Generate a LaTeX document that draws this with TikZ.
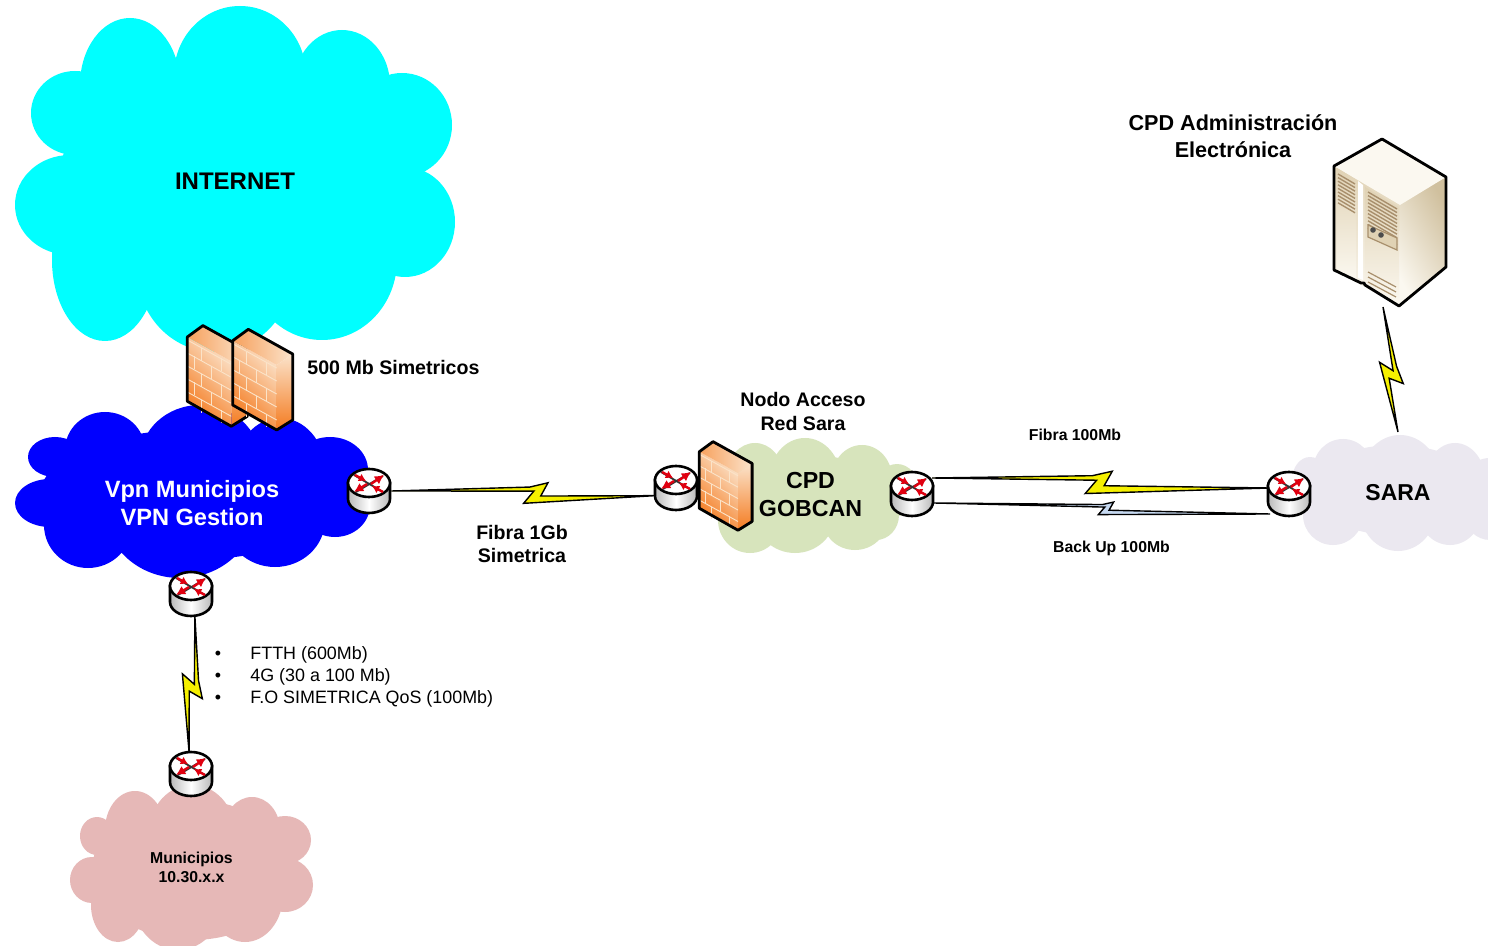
\documentclass[tikz,border=0pt]{standalone}
\usepackage{fontspec}
\setmainfont{Liberation Sans}
\usetikzlibrary{calc,arrows.meta}
\definecolor{fwdark}{HTML}{F47B20}
\definecolor{fwlight}{HTML}{FBE3CB}
\definecolor{fwtop}{HTML}{FAD9B8}
\definecolor{brick}{HTML}{FBE3C8}
\definecolor{srvlight}{HTML}{FBF8F0}
\definecolor{srvmid}{HTML}{E0D2B4}
\definecolor{srvdark}{HTML}{D0C09E}
\definecolor{slat}{HTML}{A88F6C}
\definecolor{cloudcyan}{HTML}{00FFFF}
\definecolor{cloudblue}{HTML}{0000FF}
\definecolor{cloudgreen}{HTML}{D7E4BC}
\definecolor{cloudgrey}{HTML}{EBE8F0}
\definecolor{cloudrose}{HTML}{E6B8B7}
\definecolor{boltyellow}{HTML}{F5F000}
\definecolor{boltblue}{HTML}{C6D9F1}
\definecolor{redarrow}{HTML}{E00010}
\tikzset{
  lbl/.style={inner sep=0pt,align=center,text=black,font=\bfseries},
  routerspot/.style={circle,minimum size=22pt,inner sep=0pt},
  boltline/.style={draw=black,line width=.7pt,line join=miter},
  redhead/.style={redarrow,line width=1.2pt,-{Latex[length=4.6pt,width=4.8pt]}},
  routerpic/.pic={
    \path[draw=black,line width=1.3pt,left color=gray!55,right color=gray!55,middle color=white]
      (-21,-8) -- (-21,8) arc[start angle=180,end angle=0,x radius=21,y radius=14] -- (21,-8) -- cycle;
    \path[draw=black,line width=1.3pt,fill=white] (0,-8) ellipse[x radius=21,y radius=14];
    \draw[black!80,line width=.9pt] (-15,-16) -- (14,1) (-13,1) -- (14,-15);
    \draw[redhead] (-2,-7) -- (-15,1);
    \draw[redhead] (2,-7) -- (15,-16);
    \draw[redarrow,line width=1.2pt,-{Latex[length=3.6pt,width=4.2pt]}] (-14,-16) -- (-3,-10);
    \draw[redarrow,line width=1.2pt,-{Latex[length=3.6pt,width=4.2pt]}] (14,1) -- (3,-5);
  },
  firewallpic/.pic={
    \path[left color=fwdark,right color=fwlight,shading angle=135] (0,0) -- (44,24.3) -- (44,89.3) -- (0,64.3) -- cycle;
    \path[left color=fwdark!60!fwtop,right color=fwlight] (0,0) -- (15.6,-11.4) -- (60,13.3) -- (44,24.3) -- cycle;
    \path[top color=fwlight,bottom color=fwdark] (44,24.3) -- (60,13.3) -- (60,79.3) -- (44,89.3) -- cycle;
    \foreach \c in {0,1,2,3,4}{
      \draw[brick,line width=.45pt] (0,13*\c+3) -- (44,13*\c+27.3);
    }
    \draw[brick,line width=.45pt]
      (14,11) -- (14,24) (34,21) -- (34,34)
      (7,19) -- (7,32) (24,29) -- (24,42)
      (14,37) -- (14,50) (34,47) -- (34,60)
      (7,45) -- (7,58) (24,55) -- (24,68)
      (14,63) -- (14,76) (34,73) -- (34,86);
    \draw[black,line width=1.4pt,line join=round]
      (0,0) -- (15.6,-11.4) -- (60,13.3) -- (60,79.3) -- (44,89.3) -- (0,64.3) -- cycle;
  },
}
% clouds are unions of filled ellipses: x/y/x radius/y radius
\newcommand\cloudblob[2]{\foreach \cx/\cy/\crx/\cry in {#2}{\fill[#1] (\cx,\cy) ellipse[x radius=\crx,y radius=\cry];}}
% bolt connector: from, to, position of the kink, size, colour
\newcommand\bpt[2]{($(\ba)!\bt!(\bb)!\bs*#1pt!(\bb)!\bs*#2pt!90:(\bb)$)}
\newcommand\bolt[5]{%
  \def\ba{#1}\def\bb{#2}\def\bt{#3}\def\bs{#4}%
  \path[boltline,fill=#5] (\ba) -- \bpt{-2.5}{3.2} -- \bpt{6.5}{5.5} -- \bpt{3}{-1.2} -- (\bb) -- \bpt{-5.5}{-5} -- \bpt{-0.5}{1.2} -- cycle;
}
\begin{document}
\begin{tikzpicture}[x=.5pt,y=-.5pt]
\clip (0,0) rectangle (1488,946);
\fill[white] (0,0) rectangle (1488,946);

% clouds
\cloudblob{cloudcyan}{130/85/50/67,240/75/66/69,342/85/48/55,402/125/50/52,405/222/50/55,322/260/75/80,215/270/78/82,105/260/53/81,70/205/55/50,75/113/44/42,235/180/175/130}
\cloudblob{cloudblue}{105/450/40/38,200/460/60/55,280/470/45/52,330/470/38/33,335/505/35/32,275/520/50/47,180/510/75/68,88/525/44/43,50/503/35/24,55/457/27/20,190/495/150/65}
\cloudblob{cloudgreen}{755/475/28/32,805/480/36/42,862/478/30/33,897/490/22/26,876/515/23/25,855/520/32/30,795/515/40/38,750/520/32/33,810/495/75/40}
\cloudblob{cloudgrey}{1343/470/30/31,1400/480/40/45,1455/480/30/37,1490/490/30/32,1310/480/18/23,1333/515/30/30,1398/510/38/41,1450/510/32/35,1490/515/25/25,1395/490/85/45}
\cloudblob{cloudrose}{135/830/30/39,192/830/42/45,252/830/28/33,285/840/26/24,285/885/28/27,245/895/38/47,178/900/45/50,118/905/27/37,92/880/22/23,97/836/17/19,192/870/100/70}

% anchors for the devices
\node[routerspot] (r1) at (369,491) {};
\node[routerspot] (r2) at (676,488) {};
\node[routerspot] (r3) at (912,494) {};
\node[routerspot] (r4) at (1289,494) {};
\node[routerspot] (r5) at (191,594) {};
\node[routerspot] (r6) at (191,774) {};
\coordinate (srvfoot) at (1383,307);
\coordinate (saratop) at (1398,432);
\coordinate (r3upper) at (932,478);
\coordinate (r3lower) at (934,503);
\coordinate (r4upper) at (1270,488);
\coordinate (r4lower) at (1270,514);

% bolts
\bolt{r1.east}{r2.200}{.544}{1}{boltyellow}
\bolt{r3upper}{r4upper}{.49}{1.1}{boltyellow}
\bolt{r3lower}{r4lower}{.51}{.62}{boltblue}
\bolt{r5.-80}{r6.95}{.51}{1}{boltyellow}
\bolt{srvfoot}{saratop}{.52}{1}{boltyellow}

% routers
\foreach \r in {r1,r2,r3,r4,r5,r6}{\pic at (\r) {routerpic};}

% firewalls
\pic at (187.3,337) {firewallpic};
\pic at (232.7,340.7) {firewallpic};
\pic[scale=.88] at (699.3,451.7) {firewallpic};

% server
\path[left color=srvlight,right color=srvdark,shading angle=120] (1400,203) -- (1446,177) -- (1446,267) -- (1399,306) -- cycle;
\path[top color=srvmid,bottom color=srvlight] (1334,166) -- (1400,203) -- (1399,306) -- (1334,270) -- cycle;
\fill[srvlight] (1382,139) -- (1446,177) -- (1400,205) -- (1334,166) -- cycle;
\shade[top color=srvmid,bottom color=srvlight] (1337,168) -- (1356,180) -- (1356,280) -- (1337,270) -- cycle;
\shade[top color=srvmid,bottom color=srvlight] (1365,187) -- (1399,207) -- (1399,305) -- (1365,283) -- cycle;
\fill[white] (1358,181) -- (1363,185) -- (1363,280) -- (1358,278) -- cycle;
\foreach \k in {0,...,8}{\draw[slat,line width=.7pt] (1338,174+\k*3.6) -- (1355,184+\k*3.6);}
\foreach \k in {0,...,10}{\draw[slat,line width=.7pt] (1368,192+\k*3.6) -- (1397,209+\k*3.6);}
\path[fill=srvmid,draw=slat,line width=.6pt] (1368,225) -- (1397,238) -- (1397,250) -- (1368,237) -- cycle;
\fill[black!70] (1373,230) circle[radius=2.8] (1381,235) circle[radius=2.8];
\foreach \k in {0,1,2}{\draw[slat,line width=.6pt] (1368,272+\k*5) -- (1396,287+\k*5);}
\draw[black,line width=1.4pt,line join=round]
  (1382,139) -- (1446,177) -- (1446,267) -- (1399,306) -- (1365,285) -- (1364,283) -- (1361,283) -- (1334,270) -- (1334,166) -- cycle;

% labels
\node[lbl,font=\fontsize{12}{14}\bfseries\selectfont] (internet) at (235,181) {INTERNET};
\node[lbl,font=\fontsize{9.8}{12}\bfseries\selectfont,anchor=west] (wan) at (307,367) {500 Mb Simetricos};
\node[lbl,font=\fontsize{11.8}{14}\bfseries\selectfont,text=white] (vpn) at (192,503.5) {Vpn Municipios\\VPN Gestion};
\node[lbl,font=\fontsize{9.8}{11.5}\bfseries\selectfont] (f1g) at (522,544) {Fibra 1Gb\\Simetrica};
\node[lbl,font=\fontsize{9.8}{12}\bfseries\selectfont] (nodo) at (803,411) {Nodo Acceso\\Red Sara};
\node[lbl,font=\fontsize{11.6}{14}\bfseries\selectfont] (gob) at (810.5,495) {CPD\\GOBCAN};
\node[lbl,font=\fontsize{7.9}{9.5}\bfseries\selectfont] (f100) at (1075,435) {Fibra 100Mb};
\node[lbl,font=\fontsize{7.9}{9.5}\bfseries\selectfont] (bk) at (1111.5,548) {Back Up 100Mb};
\node[lbl,font=\fontsize{11.5}{14}\bfseries\selectfont] (sara) at (1398,493) {SARA};
\node[lbl,font=\fontsize{10.8}{13.5}\bfseries\selectfont] (adm) at (1233,136) {CPD Administración\\Electrónica};
\node[lbl,font=\fontsize{7.9}{9.5}\bfseries\selectfont] (muni) at (191.5,867) {Municipios\\10.30.x.x};
\foreach \yy/\tx in {655/FTTH (600Mb),677/4G (30 a 100 Mb),699/F.O SIMETRICA QoS (100Mb)}{
  \node[inner sep=0pt,font=\fontsize{8.95}{11}\selectfont] at (218,\yy) {•};
  \node[inner sep=0pt,anchor=west,font=\fontsize{8.95}{11}\selectfont] at (250,\yy) {\tx};
}
\end{tikzpicture}
\end{document}
